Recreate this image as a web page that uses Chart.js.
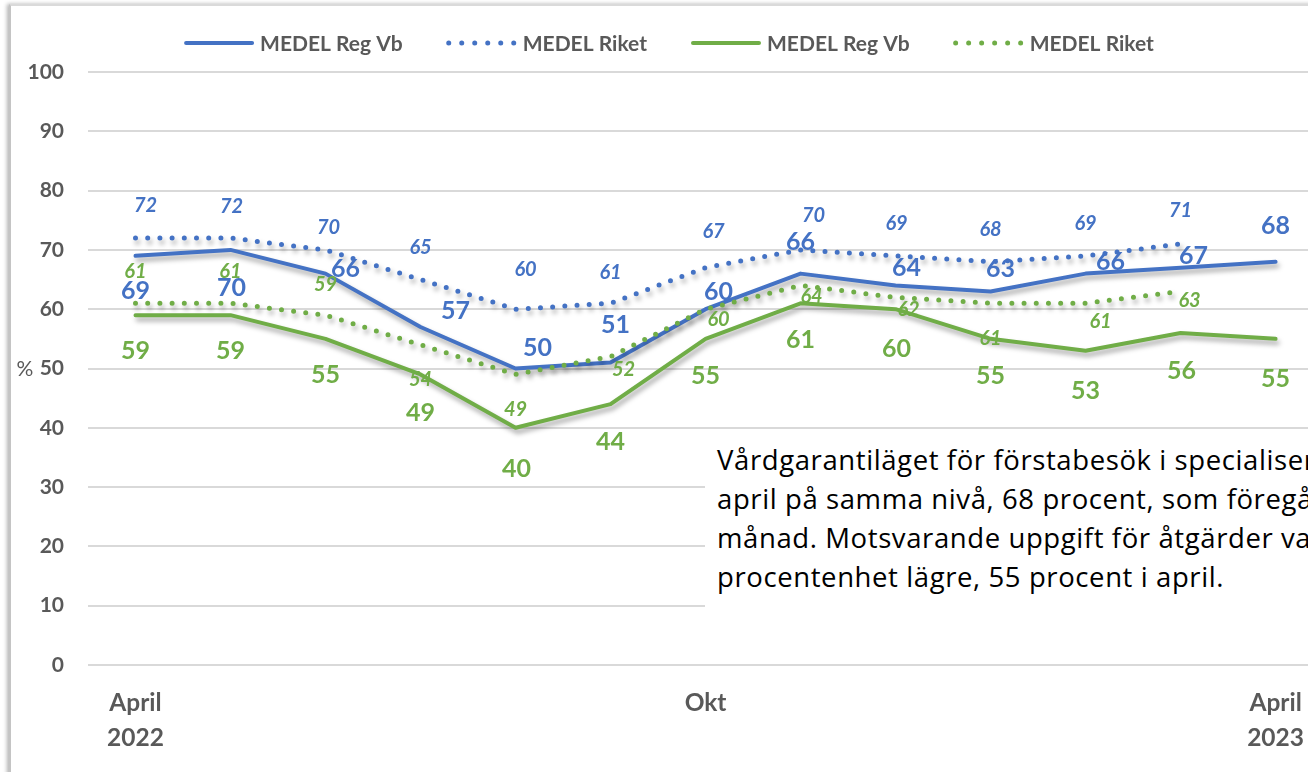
<!DOCTYPE html>
<html>
<head>
<meta charset="utf-8">
<script src="https://cdn.jsdelivr.net/npm/chart.js@4.4.0/dist/chart.umd.min.js"></script>
<style>
html, body { margin: 0; padding: 0; background: #fff; overflow: hidden; width: 1308px; height: 772px; }
#frame { position: absolute; left: 9px; top: 4px; width: 1400px; height: 800px;
         border-left: 2px solid #c4c4c4; border-top: 2px solid #dadada;
         box-shadow: -2px 0 4px rgba(0,0,0,0.3); }
#chartBox { position: absolute; left: 0; top: 0; width: 1325px; height: 772px; }
#note { position: absolute; left: 705px; top: 436px; width: 700px; height: 186px; background: #fff;
        font-family: "Open Sans"; font-size: 27.5px; letter-spacing: 0.6px; line-height: 39px; color: #000;
        padding: 4px 0 0 12px; box-sizing: border-box; white-space: nowrap; overflow: hidden; }
</style>
</head>
<body>
<div id="frame"></div>
<div id="chartBox"><canvas id="VgChart"></canvas></div>
<div id="note">
  <div>Vårdgarantiläget för förstabesök i specialiserad vård var i</div>
  <div>april på samma nivå, 68 procent, som föregående</div>
  <div>månad. Motsvarande uppgift för åtgärder var 13</div>
  <div>procentenhet lägre, 55 procent i april.</div>
</div>
<script>
// months April 2022 - April 2023
var months = ["Apr 2022", "Maj", "Jun", "Jul", "Aug", "Sep", "Okt", "Nov", "Dec", "Jan", "Feb", "Mar", "Apr 2023"];
var monthTicks = [["April", "2022"], "", "", "", "", "", "Okt", "", "", "", "", "", ["April", "2023"]];
var seriesNames = ["MEDEL Reg Vb", "MEDEL Riket", "MEDEL Reg Vb", "MEDEL Riket"];

// förstabesök
var besokRegVb = [69, 70, 66, 57, 50, 51, 60, 66, 64, 63, 66, 67, 68];
var besokRiket = [72, 72, 70, 65, 60, 61, 67, 70, 69, 68, 69, 71, null];
// åtgärder
var atgardRegVb = [59, 59, 55, 49, 40, 44, 55, 61, 60, 55, 53, 56, 55];
var atgardRiket = [61, 61, 59, 54, 49, 52, 60, 64, 62, 61, 61, 63, null];

// label placement relative to the point (px), like datalabels align/offset
var besokRegVbShift = [[0,35],[1,38],[20,-5],[35,-16],[22,-21],[5,-38],[13,-17],[0,-32],[11,-18],[10,-22],[25,-12],[13,-12],[0,-36]];
var besokRiketShift = [[10,-32],[1,-31],[3,-22],[0,-32],[10,-40],[0,-31],[8,-36],[13,-34],[1,-32],[0,-32],[0,-32],[0,-33]];
var atgardRegVbShift = [[0,36],[0,36],[0,36],[0,39],[1,41],[0,38],[0,37],[0,37],[1,40],[0,37],[0,40],[1,38],[0,40]];
var atgardRiketShift = [[0,-32],[0,-32],[0,-31],[0,35],[0,35],[13,13],[13,10],[11,11],[13,12],[0,35],[15,18],[9,9]];

var BLUE = "#4472C4";
var GREEN = "#70AD47";
var GREY_TEXT = "#595959";


// soft drop shadow under every line
var lineShadowPlugin = {
    id: "lineShadow",
    beforeDatasetDraw: function (chart) {
        var ctx = chart.ctx;
        ctx.save();
        ctx.shadowColor = "rgba(0,0,0,0.35)";
        ctx.shadowBlur = 5;
        ctx.shadowOffsetX = 2;
        ctx.shadowOffsetY = 4;
    },
    afterDatasetDraw: function (chart) {
        chart.ctx.restore();
    }
};

// value labels next to the points
var valueLabelPlugin = {
    id: "valueLabels",
    afterDatasetsDraw: function (chart) {
        var ctx = chart.ctx;
        ctx.save();
        ctx.textAlign = "center";
        ctx.textBaseline = "middle";
        chart.data.datasets.forEach(function (ds, i) {
            var meta = chart.getDatasetMeta(i);
            ctx.font = ds.labelFont;
            ctx.fillStyle = ds.borderColor;
            for (var j = 0; j < ds.data.length; ++j) {
                if (ds.data[j] === null) continue;
                var pt = meta.data[j];
                var s = ds.labelShift[j] || [0, 0];
                ctx.fillText(String(ds.data[j]), pt.x + s[0], pt.y + s[1]);
            }
        });

        // the "%" beside the value axis
        var y = chart.scales.y;
        ctx.font = "21px Lato";
        ctx.fillStyle = GREY_TEXT;
        ctx.fillText("%", 25, (y.top + y.bottom) / 2 + 1);
        ctx.restore();
    }
};

// legend drawn in one row above the plot
var topLegendPlugin = {
    id: "topLegend",
    afterDraw: function (chart) {
        var ctx = chart.ctx;
        var sample = 70, gap = 6, spacing = 44;
        ctx.save();
        ctx.font = "bold 21px Lato";
        var widths = chart.data.datasets.map(function (ds) { return ctx.measureText(ds.label).width; });
        var total = spacing * (widths.length - 1);
        widths.forEach(function (w) { total += sample + gap + w; });
        var x = 669 - total / 2;
        var y = 43;
        chart.data.datasets.forEach(function (ds, i) {
            ctx.beginPath();
            ctx.strokeStyle = ds.borderColor;
            ctx.lineWidth = ds.borderWidth;
            ctx.lineCap = "round";
            ctx.setLineDash(ds.borderDash.length ? [0, 13] : []);
            ctx.moveTo(x + 2, y);
            ctx.lineTo(x + sample - 2, y);
            ctx.stroke();
            ctx.setLineDash([]);
            ctx.fillStyle = GREY_TEXT;
            ctx.textBaseline = "middle";
            ctx.textAlign = "left";
            ctx.fillText(ds.label, x + sample + gap, y + 1);
            x += sample + gap + widths[i] + spacing;
        });
        ctx.restore();
    }
};


document.addEventListener("DOMContentLoaded", function () {
    var canvas = document.getElementById("VgChart");

    var VgChart = new Chart(canvas, {
        type: "line",
        data: {
            labels: months,
            datasets: [
                {
                    label: seriesNames[0], data: besokRegVb, labelShift: besokRegVbShift,
                    labelFont: "bold 25px Lato",
                    borderColor: BLUE, backgroundColor: BLUE, borderWidth: 4, borderDash: [],
                    borderCapStyle: "round", borderJoinStyle: "round", order: 3
                },
                {
                    label: seriesNames[1], data: besokRiket, labelShift: besokRiketShift,
                    labelFont: "italic bold 20px Lato",
                    borderColor: BLUE, backgroundColor: BLUE, borderWidth: 5, borderDash: [0, 12.2],
                    borderCapStyle: "round", borderJoinStyle: "round", order: 4
                },
                {
                    label: seriesNames[2], data: atgardRegVb, labelShift: atgardRegVbShift,
                    labelFont: "bold 25px Lato",
                    borderColor: GREEN, backgroundColor: GREEN, borderWidth: 4, borderDash: [],
                    borderCapStyle: "round", borderJoinStyle: "round", order: 2
                },
                {
                    label: seriesNames[3], data: atgardRiket, labelShift: atgardRiketShift,
                    labelFont: "italic bold 20px Lato",
                    borderColor: GREEN, backgroundColor: GREEN, borderWidth: 5, borderDash: [0, 12.2],
                    borderCapStyle: "round", borderJoinStyle: "round", order: 1
                }
            ]
        },
        options: {
            responsive: true,
            maintainAspectRatio: false,
            animation: false,
            elements: { point: { radius: 0, hoverRadius: 0 }, line: { tension: 0 } },
            layout: { padding: { top: 72, left: 0, right: 0, bottom: 0 } },
            scales: {
                x: {
                    type: "category",
                    offset: true,
                    grid: { display: false, drawTicks: false },
                    border: { display: false },
                    ticks: {
                        autoSkip: false,
                        maxRotation: 0,
                        padding: 21,
                        color: GREY_TEXT,
                        font: { family: "Lato", weight: "bold", size: 24.5, lineHeight: "35px" },
                        callback: function (value, index) { return monthTicks[index]; }
                    },
                    afterFit: function (scale) { scale.height = 107; }
                },
                y: {
                    min: 0,
                    max: 100,
                    grid: { color: "#d9d9d9", lineWidth: 2, drawTicks: false },
                    border: { display: false },
                    ticks: {
                        stepSize: 10,
                        padding: 24,
                        color: GREY_TEXT,
                        font: { family: "Lato", weight: "bold", size: 21 }
                    },
                    afterFit: function (scale) { scale.width = 88; }
                }
            },
            plugins: {
                legend: { display: false },
                tooltip: { enabled: false }
            }
        },
        plugins: [lineShadowPlugin, valueLabelPlugin, topLegendPlugin]
    });
});
</script>
</body>
</html>
